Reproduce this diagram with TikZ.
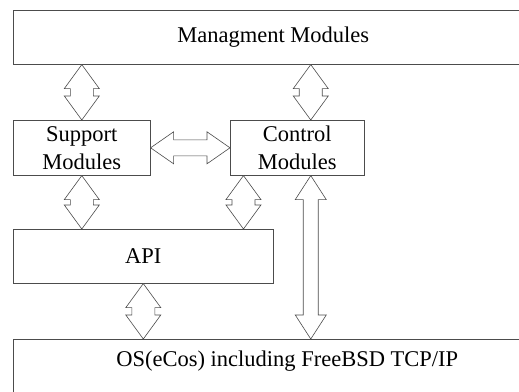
\documentclass[tikz,border=0pt]{standalone}
\usepackage{fontspec}
\setmainfont{Liberation Serif}
\usepackage{tikz}
\usetikzlibrary{calc}
\newcommand{\modfont}{\fontsize{22.5}{28}\selectfont}
% double block arrow, vertical: top tip, bottom tip, head half width, shaft half width
\newcommand{\vdbl}[4]{%
  \draw[blk] (#1) -- ($(#1)+(#3,24)$) -- ($(#1)+(#4,24)$) -- ($(#2)+(#4,-24)$)
    -- ($(#2)+(#3,-24)$) -- (#2) -- ($(#2)+(-#3,-24)$) -- ($(#2)+(-#4,-24)$)
    -- ($(#1)+(-#4,24)$) -- ($(#1)+(-#3,24)$) -- cycle;}
% same, horizontal: left tip, right tip, head half width, shaft half width
\newcommand{\hdbl}[4]{%
  \draw[blk] (#1) -- ($(#1)+(23,-#3)$) -- ($(#1)+(23,-#4)$) -- ($(#2)+(-23,-#4)$)
    -- ($(#2)+(-23,-#3)$) -- (#2) -- ($(#2)+(-23,#3)$) -- ($(#2)+(-23,#4)$)
    -- ($(#1)+(23,#4)$) -- ($(#1)+(23,#3)$) -- cycle;}

\begin{document}
\begin{tikzpicture}[x=1pt,y=-1pt,
  box/.style={draw=black!70, line width=0.6pt, inner sep=0pt, anchor=north west,
    align=center, font=\modfont},
  blk/.style={draw=black!70, line width=0.6pt, fill=white, line join=miter}]
  \useasboundingbox (0,0) rectangle (519,391);
  \clip (0,0) rectangle (519,391);

  % layers
  \node[box, minimum width=520pt, minimum height=54pt] (mm) at (13,10) {Managment Modules};
  \node[box, minimum width=137pt, minimum height=55pt] (sm) at (13,120) {Support\\Modules};
  \node[box, minimum width=134pt, minimum height=55pt] (cm) at (230,120) {Control\\Modules};
  \node[box, minimum width=260pt, minimum height=54pt] (api) at (13,229) {API};
  \node[box, minimum width=548pt, text height=27pt, text depth=40pt] (os) at (13,339)
    {OS(eCos) including FreeBSD TCP/IP};

  % arrow ends
  \coordinate (cmtop) at ($(cm.north west)!0.6!(cm.north east)$);
  \coordinate (cmbot) at ($(cm.south west)!0.6!(cm.south east)$);
  \coordinate (cmleft) at ($(cm.south west)!0.1!(cm.south east)$);
  \coordinate (mmsm) at (sm.north |- mm.south);
  \coordinate (mmcm) at (cmtop |- mm.south);
  \coordinate (apism) at (sm.south |- api.north);
  \coordinate (apicm) at (cmleft |- api.north);
  \coordinate (osapi) at (api.south |- os.north);
  \coordinate (oscm) at (cmbot |- os.north);

  \vdbl{mmsm}{sm.north}{17.5}{11.5}
  \vdbl{mmcm}{cmtop}{17.5}{11.5}
  \hdbl{sm.east}{cm.west}{16}{8}
  \vdbl{sm.south}{apism}{17.5}{11.5}
  \vdbl{cmleft}{apicm}{17.5}{11.5}
  \vdbl{cmbot}{oscm}{15.5}{7.5}
  \vdbl{api.south}{osapi}{17.5}{11.5}
\end{tikzpicture}
\end{document}
